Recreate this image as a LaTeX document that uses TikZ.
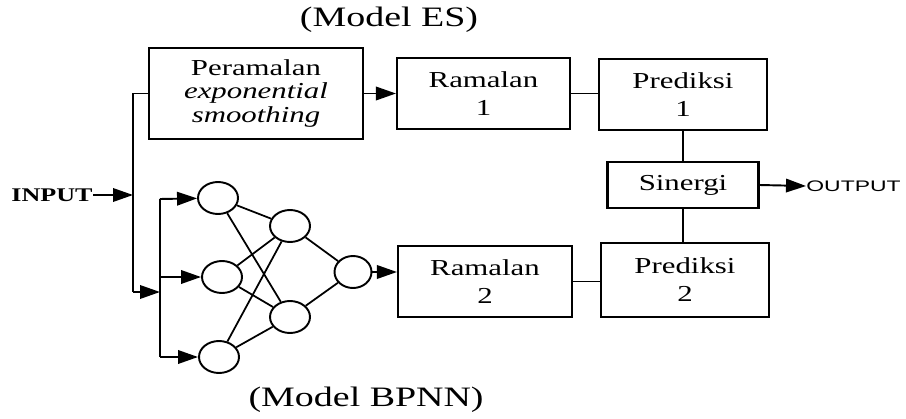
\documentclass[tikz,border=0pt]{standalone}
\usepackage{fontspec}
\setmainfont{Liberation Serif}[FakeStretch=1.35]
\newfontfamily\outfont{Liberation Sans}[FakeStretch=1.5]
\usetikzlibrary{arrows.meta, positioning, shapes.geometric, calc}
\tikzset{
  arrowK/.style={-{Triangle[length=4mm, width=2.7mm]}, line width=1.1pt},
  lineK/.style={line width=1.1pt},
  lineN/.style={line width=1pt},
  boxW/.style={rectangle, draw, line width=1.2pt, fill=white, align=center,
               inner sep=2pt, font=\fontsize{13}{16}\selectfont},
  neuron/.style={ellipse, draw, line width=1.1pt, minimum width=0.8cm,
                 minimum height=0.64cm, inner sep=0pt},
  titleT/.style={font=\fontsize{16}{18}\selectfont},
}

\begin{document}
\begin{tikzpicture}[x=0.02cm, y=-0.02cm]
  \useasboundingbox (0,0) rectangle (906,419);
  % titles
  \node[titleT] (tES) at (389,20) {(Model ES)};
  \node[titleT, anchor=east, inner sep=0pt] (tNN) at (484,400) {(Model BPNN)};

  % boxes
  \node[boxW, minimum width=4.28cm, minimum height=1.82cm,
        font=\fontsize{13}{13.5}\selectfont] (pe) at (256,93.5)
        {Peramalan\\\textit{exponential}\\\textit{smoothing}};
  \node[boxW, minimum width=3.46cm, minimum height=1.42cm] (r1) at (483.5,93.5) {Ramalan\\1};
  \node[boxW, minimum width=3.36cm, minimum height=1.42cm] (p1) at (683,94.5) {Prediksi\\1};
  \node[boxW, minimum width=3.02cm, minimum height=0.92cm] (si) at (683,185) {Sinergi};
  \node[boxW, minimum width=3.48cm, minimum height=1.42cm] (r2) at (485,281.5) {Ramalan\\2};
  \node[boxW, minimum width=3.36cm, minimum height=1.48cm] (p2) at (685,280) {Prediksi\\2};

  % in / out
  \node[anchor=east, inner sep=0pt, font=\bfseries\fontsize{11}{13}\selectfont] (in) at (93,195) {INPUT};
  \node[anchor=west, inner sep=0pt, font=\outfont\fontsize{8.7}{10}\selectfont] (out) at (806,186) {OUTPUT};

  % neurons
  \node[neuron] (i1) at (218,198) {};
  \node[neuron] (i2) at (222,277) {};
  \node[neuron] (i3) at (219,357) {};
  \node[neuron] (h1) at (290,226) {};
  \node[neuron] (h2) at (290,317) {};
  \node[neuron, minimum width=0.74cm] (o) at (353,272) {};

  % bus lines
  \coordinate (busB) at (133,292);
  \coordinate (nnT) at (160,199);
  \coordinate (nnB) at (160,357);
  \draw[lineK] (pe.west) -| (busB);
  \draw[arrowK] (in.east) -- (in.east -| busB);
  \draw[arrowK] (busB) -- (busB -| nnT);
  \draw[lineK] (nnT) -- (nnB);
  \draw[arrowK] (nnT) -- (i1);
  \draw[arrowK] (nnT |- i2) -- (i2);
  \draw[arrowK] (nnB) -- (i3);

  % network
  \foreach \a in {i1,i2,i3}
    \foreach \b in {h1,h2}
      \draw[lineN] (\a) -- (\b);
  \draw[lineN] (h1) -- (o);
  \draw[lineN] (h2) -- (o);

  % flow
  \draw[arrowK] (pe.east) -- (pe.east -| r1.west);
  \draw[arrowK] (o.east) -- (o.east -| r2.west);
  \draw[lineK] (r1.east) -- (r1.east -| p1.west);
  \draw[lineK] (r2.east) -- (r2.east -| p2.west);
  \draw[lineK] (p1.south) -- (p1.south |- si.north);
  \draw[lineK] (si.south) -- (si.south |- p2.north);
  \draw[arrowK] (si.east) -- (out.west);
\end{tikzpicture}
\end{document}
